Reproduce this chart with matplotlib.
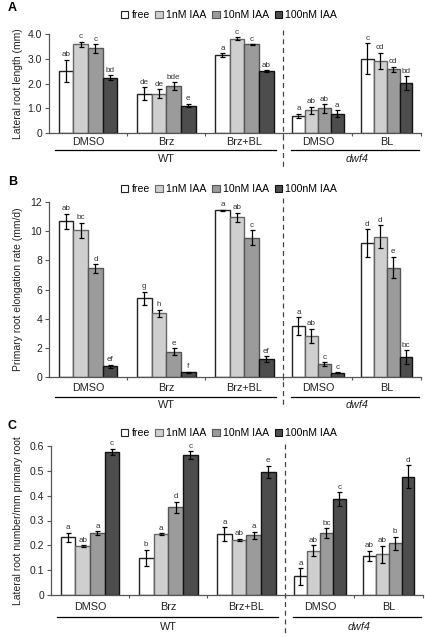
import matplotlib.pyplot as plt
from matplotlib.patches import Patch
from matplotlib.transforms import blended_transform_factory

plt.rcParams['font.family'] = ['Liberation Sans', 'DejaVu Sans']

# categories and series
groups = ['DMSO', 'Brz', 'Brz+BL', 'DMSO', 'BL']
series = ['free', '1nM IAA', '10nM IAA', '100nM IAA']

# panel A: lateral root length (mm)
a_vals = [[2.51, 3.59, 3.42, 2.23],
          [1.59, 1.59, 1.89, 1.11],
          [3.15, 3.81, 3.58, 2.50],
          [0.70, 0.92, 0.99, 0.78],
          [3.01, 2.92, 2.58, 2.01]]
a_err = [[0.45, 0.10, 0.17, 0.10],
         [0.26, 0.19, 0.17, 0.07],
         [0.07, 0.06, 0.02, 0.03],
         [0.08, 0.15, 0.18, 0.13],
         [0.63, 0.32, 0.10, 0.29]]
a_let = [['ab', 'c', 'c', 'bd'],
         ['de', 'de', 'bde', 'e'],
         ['a', 'c', 'c', 'ab'],
         ['a', 'ab', 'ab', 'a'],
         ['c', 'cd', 'cd', 'bd']]

# panel B: primary root elongation rate (mm/d)
b_vals = [[10.69, 10.05, 7.45, 0.74],
          [5.39, 4.36, 1.74, 0.33],
          [11.42, 10.95, 9.55, 1.22],
          [3.50, 2.80, 0.90, 0.30],
          [9.17, 9.62, 7.50, 1.38]]
b_err = [[0.52, 0.53, 0.29, 0.10],
         [0.45, 0.25, 0.22, 0.04],
         [0.05, 0.33, 0.52, 0.22],
         [0.60, 0.50, 0.13, 0.05],
         [0.95, 0.78, 0.74, 0.46]]
b_let = [['ab', 'bc', 'd', 'ef'],
         ['g', 'h', 'e', 'f'],
         ['a', 'ab', 'c', 'ef'],
         ['a', 'ab', 'c', 'c'],
         ['d', 'd', 'e', 'bc']]

# panel C: lateral root number / mm primary root
c_vals = [[0.232, 0.197, 0.249, 0.577],
          [0.149, 0.245, 0.353, 0.563],
          [0.246, 0.221, 0.240, 0.495],
          [0.075, 0.179, 0.250, 0.386],
          [0.157, 0.164, 0.209, 0.476]]
c_err = [[0.019, 0.003, 0.009, 0.012],
         [0.034, 0.003, 0.023, 0.017],
         [0.028, 0.005, 0.015, 0.025],
         [0.034, 0.022, 0.020, 0.029],
         [0.021, 0.034, 0.026, 0.046]]
c_let = [['a', 'ab', 'a', 'c'],
         ['b', 'a', 'd', 'c'],
         ['a', 'ab', 'a', 'e'],
         ['a', 'ab', 'bc', 'c'],
         ['ab', 'ab', 'b', 'd']]

colors = ['white', '#cfcfcf', '#9b9b9b', '#4d4d4d']
edges = ['#222222', '#666666', '#555555', '#111111']
cat_w = [1, 1, 1, 0.88, 0.88]

W, H = 425, 637
fig = plt.figure(figsize=(W / 100, H / 100), dpi=100)


def add_px_axes(left, top, right, bottom):
    return fig.add_axes([left / W, 1 - bottom / H, (right - left) / W, (bottom - top) / H])


def fy(py):
    return 1 - py / H


def panel(ax, vals, err, lets, ymax, yticks, yticklabels, ylabel, top, bottom,
          letter, leg_y, lab_off, line_off, wt_off, dash_top, dash_bot):
    bounds = [0]
    for w in cat_w:
        bounds.append(bounds[-1] + w)
    for g in range(len(groups)):
        w = cat_w[g]
        bw = 0.1875 * w
        center = bounds[g] + w / 2
        for s in range(4):
            x = center + (s - 1.5) * bw
            ax.bar(x, vals[g][s], width=bw, color=colors[s], edgecolor=edges[s],
                   linewidth=1.0, zorder=2)
            ax.errorbar(x, vals[g][s], yerr=err[g][s], color='black', lw=0.9,
                        capsize=1.8, capthick=0.9, zorder=3)
            ax.annotate(lets[g][s], (x, vals[g][s] + err[g][s]), xytext=(0, 1),
                        textcoords='offset points', ha='center', va='bottom',
                        fontsize=5.8, color='#333333')
    ax.set_xlim(0, bounds[-1])
    ax.set_ylim(0, ymax)
    ax.set_yticks(yticks)
    ax.set_yticklabels(yticklabels, fontsize=7.5, color='#222222')
    ax.set_xticks(bounds[1:])
    ax.set_xticklabels([])
    ax.tick_params(axis='x', length=2, direction='out', color='#555555')
    ax.tick_params(axis='y', length=3, direction='out', color='#555555', pad=2)
    for side in ['top', 'right']:
        ax.spines[side].set_visible(False)
    for side in ['left', 'bottom']:
        ax.spines[side].set_color('#555555')
        ax.spines[side].set_linewidth(0.9)

    tr = blended_transform_factory(ax.transData, fig.transFigure)
    for g in range(len(groups)):
        cx = bounds[g] + cat_w[g] / 2
        ax.text(cx, fy(bottom + lab_off), groups[g], transform=tr, ha='center',
                va='center', fontsize=7.8, color='#222222')
    ax.plot([0.08, 2.9], [fy(bottom + line_off)] * 2, color='black', lw=0.9,
            transform=tr, clip_on=False)
    ax.plot([3.1, 4.74], [fy(bottom + line_off)] * 2, color='black', lw=0.9,
            transform=tr, clip_on=False)
    ax.text(1.5, fy(bottom + wt_off), 'WT', transform=tr, ha='center',
            va='center', fontsize=7.8, color='#222222')
    ax.text(3.94, fy(bottom + wt_off), 'dwf4', transform=tr, ha='center',
            va='center', fontsize=7.8, style='italic', color='#222222')
    ax.plot([3.0, 3.0], [fy(dash_top), fy(dash_bot)], color='#444444', lw=0.9,
            ls=(0, (4, 3)), transform=tr, clip_on=False)

    fig.text(18 / W, fy((top + bottom) / 2), ylabel, rotation=90, ha='center',
             va='center', fontsize=7.5, color='#222222')
    fig.text(8 / W, fy(leg_y - 7), letter, fontsize=9, fontweight='bold',
             ha='left', va='center')
    handles = [Patch(facecolor=colors[i], edgecolor=edges[i], linewidth=0.8)
               for i in range(4)]
    fig.legend(handles, series, loc='center', bbox_to_anchor=(229 / W, fy(leg_y)),
               ncol=4, frameon=False, fontsize=7.6, handlelength=0.7,
               handleheight=0.7, handletextpad=0.3, columnspacing=0.55,
               borderpad=0)


ax_a = add_px_axes(49, 34, 421, 133)
panel(ax_a, a_vals, a_err, a_let, 4.0, [0, 1, 2, 3, 4],
      ['0', '1.0', '2.0', '3.0', '4.0'], 'Lateral root length (mm)', 34, 133,
      'A', 15, 9, 17, 26, 30, 168)

ax_b = add_px_axes(49, 202, 421, 377)
panel(ax_b, b_vals, b_err, b_let, 12, [0, 2, 4, 6, 8, 10, 12],
      ['0', '2', '4', '6', '8', '10', '12'], 'Primary root elongation rate (mm/d)',
      202, 377, 'B', 189, 11, 20, 28, 198, 408)

ax_c = add_px_axes(51, 446, 423, 595)
panel(ax_c, c_vals, c_err, c_let, 0.6, [0, 0.1, 0.2, 0.3, 0.4, 0.5, 0.6],
      ['0', '0.1', '0.2', '0.3', '0.4', '0.5', '0.6'],
      'Lateral root number/mm primary root', 446, 595, 'C', 433, 12, 22, 32, 444, 637)

plt.savefig('out.png', dpi=100)
